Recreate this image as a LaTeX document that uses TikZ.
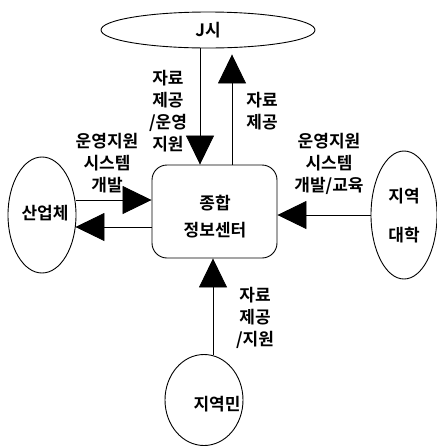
\documentclass[tikz,border=0pt]{standalone}
\usepackage{fontspec}
\newfontfamily\kr{Noto Sans CJK KR}[BoldFont={Noto Sans CJK KR Bold}]
\usetikzlibrary{shapes.geometric,arrows.meta}
\tikzset{
  lbl/.style={font=\kr\bfseries\fontsize{17}{22}\selectfont, align=center, inner sep=0pt},
  ent/.style={draw, line width=0.9pt, ellipse, inner sep=0pt},
  arr/.style={line width=0.8pt, -{Triangle[length=29pt,width=28pt]}},
}
\begin{document}
\begin{tikzpicture}[x=1pt,y=-1pt]
\useasboundingbox (0,0) rectangle (437,448);
% entities
\node[ent, minimum width=214pt, minimum height=36pt] (jsi) at (208,30) {};
\node[lbl] at (208,30) {J시};
\node[draw, line width=0.9pt, rounded corners=15pt, minimum width=125pt, minimum height=93pt] (hub) at (214.5,211.5) {};
\node[lbl] at (215,203) {종합};
\node[lbl] at (215,230) {정보센터};
\node[ent, minimum width=68pt, minimum height=116pt] (ind) at (42,215) {};
\node[lbl] at (45,213) {산업체};
\node[ent, minimum width=66pt, minimum height=128pt] (univ) at (404,215) {};
\node[lbl] at (404,196) {지역};
\node[lbl] at (404,235) {대학};
\node[ent, minimum width=78pt, minimum height=91pt] (res) at (204,400) {};
\node[lbl] at (217,404) {지역민};
% connectors
\draw[arr] ([xshift=-8pt]jsi.south) -- ([xshift=-14.5pt]hub.north);
\draw[arr] ([xshift=17.5pt]hub.north) -- ([xshift=24pt,yshift=-6pt]jsi.south);
\draw[arr] ([yshift=15pt]ind.east) -- ([yshift=11.5pt]hub.west);
\draw[arr] ([yshift=-15.5pt]hub.west) -- ([yshift=-12pt,xshift=-1pt]ind.east);
\draw[arr] (univ.west) -- (hub.east |- univ.west);
\draw[arr] ([xshift=9pt,yshift=-1pt]res.north) -- ([xshift=-1.5pt]hub.south);
% labels
\node[lbl] at (168,111) {자료\\제공\\/운영\\지원};
\node[lbl] at (262,111) {자료\\제공};
\node[lbl] at (107,163) {운영지원\\시스템\\개발};
\node[lbl] at (329,164) {운영지원\\시스템\\개발/교육};
\node[lbl] at (255,318) {자료\\제공\\/지원};
\end{tikzpicture}
\end{document}
